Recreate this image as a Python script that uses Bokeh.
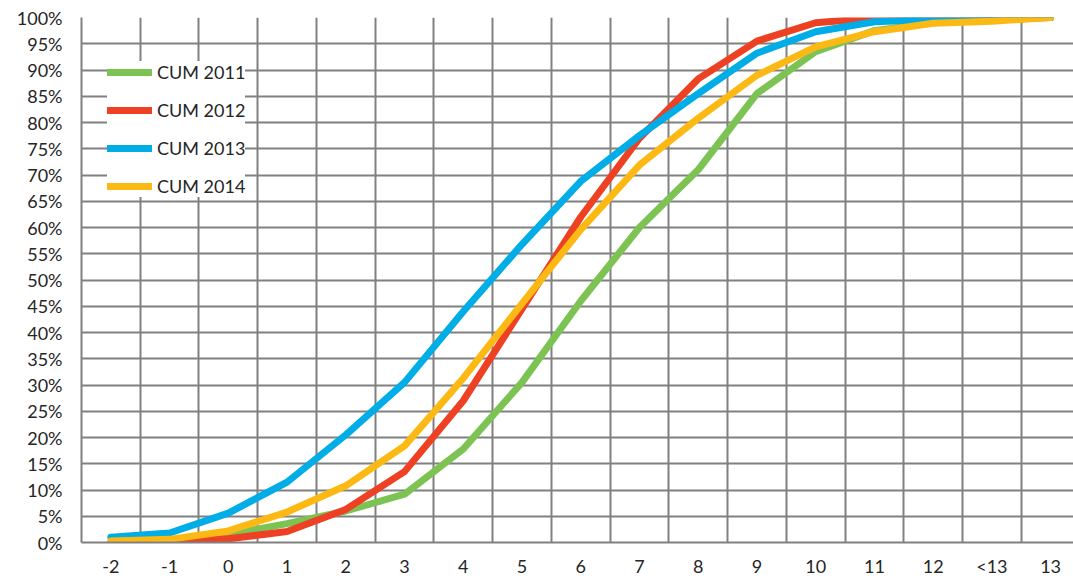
from bokeh.plotting import figure
from bokeh.models import Range1d, FixedTicker, PrintfTickFormatter, Legend, LegendItem
from bokeh.embed import file_html
from bokeh.resources import INLINE

categories = ["-2", "-1", "0", "1", "2", "3", "4", "5", "6", "7", "8", "9", "10", "11", "12", "<13", "13"]
cum_2011 = [0.0, 0.4, 1.5, 3.6, 6.0, 9.2, 17.8, 30.5, 46.0, 60.0, 71.0, 85.5, 93.5, 97.5, 99.0, 99.5, 100.0]
cum_2012 = [0.0, 0.1, 0.7, 2.1, 6.3, 13.5, 27.0, 44.5, 62.0, 77.0, 88.3, 95.5, 99.0, 99.9, 100.0, 100.0, 100.0]
cum_2013 = [1.0, 1.8, 5.6, 11.5, 20.5, 30.5, 44.0, 56.8, 68.8, 77.5, 85.5, 93.2, 97.3, 99.2, 99.6, 99.8, 100.0]
cum_2014 = [0.3, 0.6, 2.2, 5.8, 10.8, 18.4, 31.3, 45.5, 59.6, 71.9, 80.8, 89.0, 94.4, 97.3, 98.9, 99.3, 100.0]

series = [
    ("CUM 2011", cum_2011, "#7DC353"),
    ("CUM 2012", cum_2012, "#EE4124"),
    ("CUM 2013", cum_2013, "#00ADE6"),
    ("CUM 2014", cum_2014, "#FDB913"),
]

xs = list(range(len(categories)))
GRID = "#808080"
FONT = "Lato"
TXT = "#262626"

p = figure(width=1073, height=579, output_backend="svg", toolbar_location=None,
           x_range=Range1d(-0.5, 16.39), y_range=Range1d(0, 100),
           min_border_left=81, min_border_right=0, min_border_top=17, min_border_bottom=36)
p.outline_line_color = None
p.background_fill_color = "white"
p.border_fill_color = "white"

# axes
p.xaxis.ticker = FixedTicker(ticks=xs)
p.xaxis.major_label_overrides = {i: c for i, c in enumerate(categories)}
p.yaxis.ticker = FixedTicker(ticks=[5 * i for i in range(21)])
p.yaxis.formatter = PrintfTickFormatter(format="%d%%")
for ax in (p.xaxis[0], p.yaxis[0]):
    ax.axis_line_color = GRID
    ax.axis_line_width = 2
    ax.major_tick_line_color = None
    ax.minor_tick_line_color = None
    ax.major_tick_out = 0
    ax.major_tick_in = 0
    ax.major_label_text_font = FONT
    ax.major_label_text_font_size = "18px"
    ax.major_label_text_color = TXT
p.yaxis.major_label_standoff = 19
p.xaxis.major_label_standoff = 12

# grids
p.xgrid.ticker = FixedTicker(ticks=[-0.5 + k for k in range(18)])
p.ygrid.ticker = FixedTicker(ticks=[5 * i for i in range(21)])
for g in (p.xgrid[0], p.ygrid[0]):
    g.grid_line_color = GRID
    g.grid_line_width = 2
    g.grid_line_alpha = 1

items = []
for name, vals, col in series:
    r = p.line(xs, vals, line_color=col, line_width=7, line_cap="round", line_join="round")
    items.append(LegendItem(label=name, renderers=[r]))

legend = Legend(items=items, location=(26, 345))
legend.background_fill_color = "white"
legend.background_fill_alpha = 1
legend.border_line_color = None
legend.label_text_font = FONT
legend.label_text_font_size = "18px"
legend.label_text_color = TXT
legend.glyph_width = 45
legend.glyph_height = 20
legend.label_height = 20
legend.spacing = 16
legend.padding = 10
legend.margin = 0
legend.label_standoff = 5
p.add_layout(legend, "center")

open("out.html", "w").write(file_html(p, INLINE))
